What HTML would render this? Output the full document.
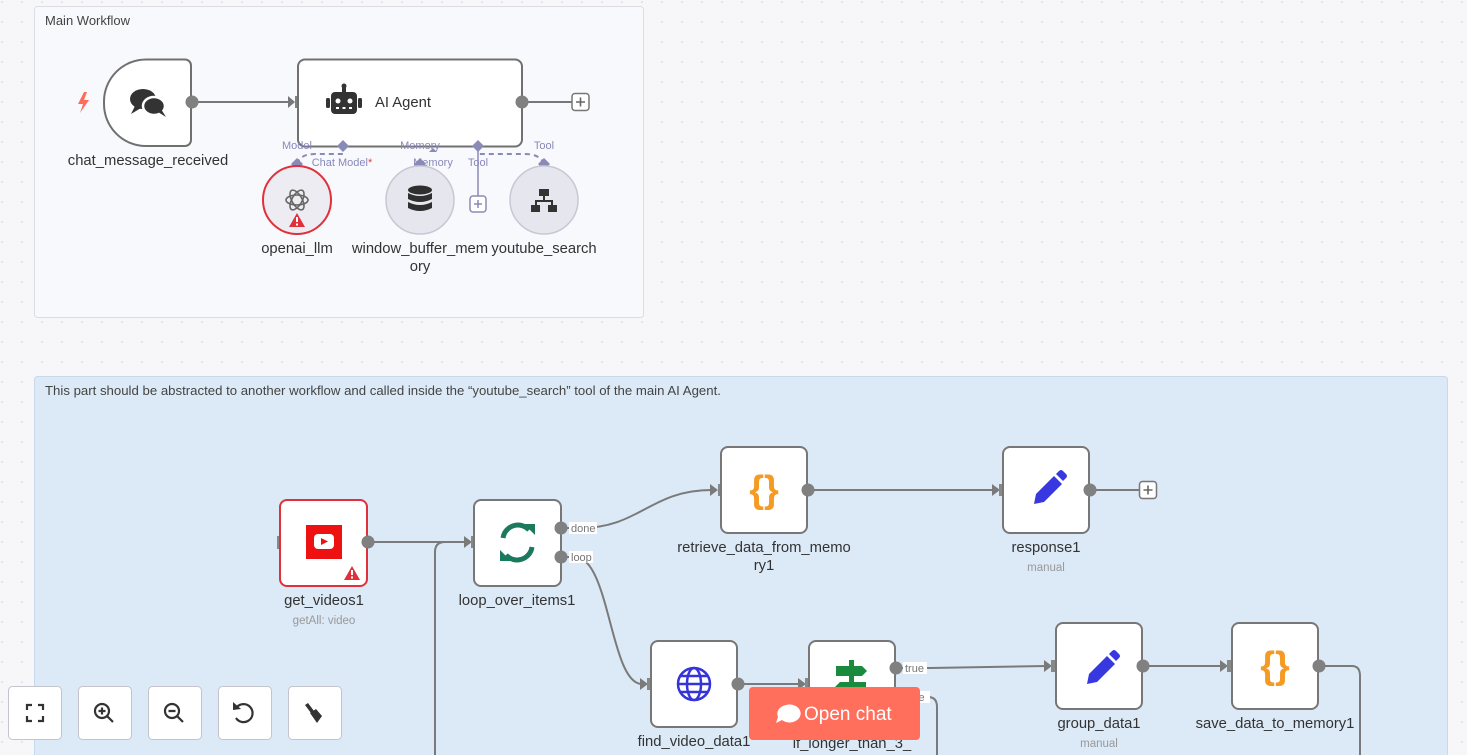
<!DOCTYPE html>
<html><head><meta charset="utf-8">
<style>
html,body{margin:0;padding:0;width:1467px;height:755px;overflow:hidden;background:#f6f6f8;font-family:"Liberation Sans",sans-serif;}
svg{position:absolute;left:0;top:0}
text{font-family:"Liberation Sans",sans-serif}
</style></head><body>
<svg width="1467" height="755" viewBox="0 0 1467 755" xmlns="http://www.w3.org/2000/svg">
<defs>
<pattern id="dots" width="20" height="20" patternUnits="userSpaceOnUse"><circle cx="2" cy="2" r="0.9" fill="#d4d4dc"/></pattern>
</defs>
<rect width="1467" height="755" fill="#f7f7f9"/>
<rect width="1467" height="755" fill="url(#dots)"/>

<rect x="34.5" y="6.5" width="609" height="311" rx="3" fill="#f8f9fc" stroke="#dcdde3"/>
<text x="45" y="25" font-size="13" fill="#444">Main Workflow</text>

<rect x="34.5" y="376.5" width="1413" height="390" rx="3" fill="#dce9f6" stroke="#c9d8ea"/>
<text x="45" y="395" font-size="13.2" fill="#444">This part should be abstracted to another workflow and called inside the “youtube_search” tool of the main AI Agent.</text>

<path d="M84 92 L78 104 L83 104 L80 113 L89 100 L84 100 L87 92 Z" fill="#ff6d5a"/>
<path d="M146 59.5 H185 a6 6 0 0 1 6 6 V140 a6 6 0 0 1 -6 6 H146 a42 42 0 0 1 -42 -42 V101.5 a42 42 0 0 1 42 -42 Z" fill="#fff" stroke="#707070" stroke-width="2"/>
<g fill="#333">
<ellipse cx="143" cy="99" rx="13" ry="10"/>
<path d="M135 106 L131 114 L141 108 Z"/>
<ellipse cx="154" cy="106" rx="11" ry="9" stroke="#fff" stroke-width="2.5"/>
<path d="M158 112 L166 117 L161 109 Z"/>
</g>
<text x="148" y="165" font-size="14.8" fill="#333" text-anchor="middle">chat_message_received</text>
<line x1="192" y1="102" x2="292" y2="102" stroke="#777" stroke-width="2"/>
<circle cx="192" cy="102" r="6.5" fill="#808080"/>
<path d="M288 96 L295 102 L288 108 Z" fill="#777"/><rect x="295" y="96" width="4" height="12" fill="#808080"/>

<rect x="298" y="59.5" width="224" height="87" rx="7" fill="#fff" stroke="#707070" stroke-width="2"/>
<g fill="#333">
<rect x="331" y="92" width="26" height="22" rx="4"/>
<rect x="326" y="98" width="4" height="10" rx="1.5"/>
<rect x="358" y="98" width="4" height="10" rx="1.5"/>
<rect x="342" y="86" width="4" height="7"/>
<circle cx="344" cy="86" r="2.5"/>
</g>
<circle cx="338" cy="101" r="2.5" fill="#fff"/><circle cx="350" cy="101" r="2.5" fill="#fff"/>
<rect x="336" y="107" width="3" height="2" fill="#fff"/><rect x="342.5" y="107" width="3" height="2" fill="#fff"/><rect x="349" y="107" width="3" height="2" fill="#fff"/>
<text x="375" y="107" font-size="14.8" fill="#333">AI Agent</text>
<line x1="522" y1="102" x2="572" y2="102" stroke="#777" stroke-width="2"/>
<circle cx="522" cy="102" r="6.5" fill="#808080"/>
<rect x="572" y="93.5" width="17" height="17" rx="3" fill="#fff" stroke="#777" stroke-width="1.5"/>
<path d="M580.5 97.5 V106.5 M576 102 H585" stroke="#666" stroke-width="1.6"/>

<g font-size="11" fill="#8888bb" text-anchor="middle">
<text x="297" y="149">Model</text>
<text x="420" y="149">Memory</text>
<text x="544" y="149">Tool</text>
<text x="342" y="166">Chat Model<tspan fill="#e0404a">*</tspan></text>
<text x="433" y="166">Memory</text>
<text x="478" y="166">Tool</text>
</g>
<g stroke="#8a8ab8" stroke-width="2" stroke-dasharray="5 4" fill="none">
<path d="M297 164 Q300 154 315 154 H343"/>
<path d="M544 164 Q540 154 525 154 H478"/>
</g>
<line x1="478" y1="146" x2="478" y2="196" stroke="#8a8ab8" stroke-width="1.5"/>
<rect x="470" y="196" width="16" height="16" rx="3" fill="#fff" stroke="#8a8ab8" stroke-width="1.5"/>
<path d="M478 200 V208 M474 204 H482" stroke="#8a8ab8" stroke-width="1.5"/>
<g fill="#8a8ab8">
<path d="M343 140 L349 146 L343 152 L337 146 Z"/>
<path d="M478 140 L484 146 L478 152 L472 146 Z"/>
<path d="M433 148 L437 152 L429 152 Z"/>
<path d="M297 158 L303 164 L297 170 L291 164 Z"/>
<path d="M420 158 L426 164 L420 170 L414 164 Z"/>
<path d="M544 158 L550 164 L544 170 L538 164 Z"/>
</g>

<circle cx="297" cy="200" r="34" fill="#ececf2" stroke="#e0303a" stroke-width="2"/>
<g fill="none" stroke="#666" stroke-width="1.6">
<ellipse cx="297" cy="200" rx="11" ry="5"/>
<ellipse cx="297" cy="200" rx="11" ry="5" transform="rotate(60 297 200)"/>
<ellipse cx="297" cy="200" rx="11" ry="5" transform="rotate(120 297 200)"/>
</g>
<path d="M297 213 L305 227 L289 227 Z" fill="#e0303a"/>
<rect x="296" y="217" width="2" height="5" fill="#fff"/><rect x="296" y="223.5" width="2" height="2" fill="#fff"/>

<circle cx="420" cy="200" r="34" fill="#e6e6ee" stroke="#c8c8d4" stroke-width="1.5"/>
<g fill="#2f2f2f">
<ellipse cx="420" cy="190" rx="12" ry="4.5"/>
<path d="M408 193 Q420 199 432 193 V199 Q420 205 408 199 Z"/>
<path d="M408 202 Q420 208 432 202 V208 Q420 214 408 208 Z"/>
</g>
<circle cx="544" cy="200" r="34" fill="#e6e6ee" stroke="#c8c8d4" stroke-width="1.5"/>
<g fill="#333">
<rect x="539" y="189" width="10" height="7"/>
<rect x="531" y="205" width="9" height="7"/>
<rect x="548" y="205" width="9" height="7"/>
<path d="M543 196 H545 V200 H553 V205 H551 V202 H537 V205 H535 V200 H543 Z"/>
</g>
<g font-size="14.8" fill="#333" text-anchor="middle">
<text x="297" y="253">openai_llm</text>
<text x="420" y="253">window_buffer_mem</text>
<text x="420" y="271">ory</text>
<text x="544" y="253">youtube_search</text>
</g>

<g stroke="#7a7a7a" stroke-width="2" fill="none">
<path d="M368 542 H466"/>
<path d="M435 760 V552 Q435 542 445 542 H466"/>
<path d="M561 528 H580 C640 528 650 490 712 490"/>
<path d="M561 557 H575 C610 557 610 684 642 684"/>
<path d="M808 490 H993"/>
<path d="M1090 490 H1140"/>
<path d="M738 684 H800"/>
<path d="M896 668 H930 L1046 666"/>
<path d="M896 697 H928 Q937 697 937 707 V760"/>
<path d="M1143 666 H1222"/>
<path d="M1319 666 H1352 Q1360 666 1360 676 V760"/>
</g>
<g fill="#7a7a7a">
<path d="M464 536 L472 542 L464 548 Z"/>
<path d="M710 484 L718 490 L710 496 Z"/>
<path d="M992 484 L1000 490 L992 496 Z"/>
<path d="M640 678 L648 684 L640 690 Z"/>
<path d="M798 678 L806 684 L798 690 Z"/>
<path d="M1044 660 L1052 666 L1044 672 Z"/>
<path d="M1220 660 L1228 666 L1220 672 Z"/>
</g>
<g fill="#888">
<rect x="471" y="536" width="4" height="12"/>
<rect x="718" y="484" width="4" height="12"/>
<rect x="999" y="484" width="4" height="12"/>
<rect x="647" y="678" width="4" height="12"/>
<rect x="805" y="678" width="4" height="12"/>
<rect x="1051" y="660" width="4" height="12"/>
<rect x="1227" y="660" width="4" height="12"/>
<rect x="277" y="536" width="5" height="13"/>
</g>

<g fill="#fff" stroke="#777" stroke-width="2">
<rect x="474" y="500" width="87" height="86" rx="7"/>
<rect x="721" y="447" width="86" height="86" rx="7"/>
<rect x="1003" y="447" width="86" height="86" rx="7"/>
<rect x="651" y="641" width="86" height="86" rx="7"/>
<rect x="809" y="641" width="86" height="86" rx="7"/>
<rect x="1056" y="623" width="86" height="86" rx="7"/>
<rect x="1232" y="623" width="86" height="86" rx="7"/>
</g>
<rect x="280" y="500" width="87" height="86" rx="7" fill="#fff" stroke="#e0303a" stroke-width="2"/>
<rect x="306" y="525" width="36" height="34" fill="#ee1111"/>
<rect x="314" y="534" width="20" height="15" rx="4" fill="#fff"/>
<path d="M321 538 L328 541.5 L321 545 Z" fill="#ee1111"/>
<path d="M352 566 L360 580 L344 580 Z" fill="#e0303a"/>
<rect x="351" y="570" width="2" height="5" fill="#fff"/><rect x="351" y="576.5" width="2" height="2" fill="#fff"/>
<g fill="none" stroke="#1b7a5e" stroke-width="5">
<path d="M503 538 A15 15 0 0 1 529 530"/>
<path d="M532 547 A15 15 0 0 1 506 555"/>
</g>
<path d="M524 524 L535 524 L535 535 Z" fill="#1b7a5e"/>
<path d="M511 561 L500 561 L500 550 Z" fill="#1b7a5e"/>
<text x="764" y="502" font-size="38" font-weight="bold" fill="#f59a23" text-anchor="middle">{}</text>
<text x="1275" y="678" font-size="38" font-weight="bold" fill="#f59a23" text-anchor="middle">{}</text>
<g fill="#3838e0">
<path d="M1034 504 L1036 494 L1054 476 L1062 484 L1044 502 Z"/>
<path d="M1056 474 L1059 471 Q1061 469 1063 471 L1066 474 Q1068 476 1066 478 L1063 481 Z"/>
<path d="M1087 684 L1089 674 L1107 656 L1115 664 L1097 682 Z"/>
<path d="M1109 654 L1112 651 Q1114 649 1116 651 L1119 654 Q1121 656 1119 658 L1116 661 Z"/>
</g>
<g fill="none" stroke="#3434d8" stroke-width="2.5">
<circle cx="694" cy="684" r="16"/>
<ellipse cx="694" cy="684" rx="7" ry="16"/>
<path d="M678 684 H710 M680 676 H708 M680 692 H708"/>
</g>
<g fill="#1a8a3c">
<path d="M836 666 H862 L867 671 L862 676 H836 Z"/>
<rect x="849" y="660" width="5" height="40"/>
<path d="M866 682 H840 L835 687 L840 692 H866 Z"/>
</g>
<g fill="#808080">
<circle cx="368" cy="542" r="6.5"/>
<circle cx="561" cy="528" r="6.5"/>
<circle cx="561" cy="557" r="6.5"/>
<circle cx="808" cy="490" r="6.5"/>
<circle cx="1090" cy="490" r="6.5"/>
<circle cx="738" cy="684" r="6.5"/>
<circle cx="896" cy="668" r="6.5"/>
<circle cx="1143" cy="666" r="6.5"/>
<circle cx="1319" cy="666" r="6.5"/>
</g>
<g fill="#fff">
<rect x="569" y="522" width="28" height="12"/>
<rect x="569" y="551" width="24" height="12"/>
<rect x="903" y="662" width="24" height="12"/>
<rect x="920" y="691" width="10" height="12"/>
</g>
<g font-size="11" fill="#777">
<text x="571" y="532">done</text>
<text x="571" y="561">loop</text>
<text x="905" y="672">true</text>
<text x="913" y="701">se</text>
</g>
<rect x="1139.5" y="481.5" width="17" height="17" rx="3" fill="#fff" stroke="#777" stroke-width="1.5"/>
<path d="M1148 485.5 V494.5 M1143.5 490 H1152.5" stroke="#666" stroke-width="1.6"/>

<g font-size="14.8" fill="#333" text-anchor="middle">
<text x="324" y="605">get_videos1</text>
<text x="517" y="605">loop_over_items1</text>
<text x="764" y="552">retrieve_data_from_memo</text>
<text x="764" y="570">ry1</text>
<text x="1046" y="552">response1</text>
<text x="694" y="746">find_video_data1</text>
<text x="852" y="748">if_longer_than_3_</text>
<text x="1099" y="728">group_data1</text>
<text x="1275" y="728">save_data_to_memory1</text>
</g>
<g font-size="11.5" fill="#999" text-anchor="middle">
<text x="324" y="624">getAll: video</text>
<text x="1046" y="571">manual</text>
<text x="1099" y="747">manual</text>
</g>

<rect x="749" y="687" width="171" height="53" rx="4" fill="#ff6f5c"/>
<path d="M786 705 a11 9 0 1 1 -4 15 l-6 3 l2 -6 a11 9 0 0 1 8 -12 Z" fill="#fff"/>
<text x="804" y="720" font-size="19" fill="#fff">Open chat</text>

<g fill="#fff" stroke="#c4c4cc" stroke-width="1">
<rect x="8.5" y="686.5" width="53" height="53" rx="4"/>
<rect x="78.5" y="686.5" width="53" height="53" rx="4"/>
<rect x="148.5" y="686.5" width="53" height="53" rx="4"/>
<rect x="218.5" y="686.5" width="53" height="53" rx="4"/>
<rect x="288.5" y="686.5" width="53" height="53" rx="4"/>
</g>
<g stroke="#333" stroke-width="2.2" fill="none">
<path d="M27 710 V705 H32 M38 705 H43 V710 M43 716 V721 H38 M32 721 H27 V716"/>
<circle cx="102" cy="711" r="7"/><path d="M107 716 L113 722 M98.5 711 H105.5 M102 707.5 V714.5"/>
<circle cx="172" cy="711" r="7"/><path d="M177 716 L183 722 M168.5 711 H175.5"/>
<path d="M237 707 A9 9 0 1 1 236 718"/>
</g>
<path d="M233 702 L233 710 L241 709 Z" fill="#333"/>
<g fill="#333">
<path d="M305 705 L308 703 L314 711 L311 713 Z"/>
<path d="M310 713 L316 709 L322 716 L317 723 Z"/>
</g>
</svg>
</body></html>
